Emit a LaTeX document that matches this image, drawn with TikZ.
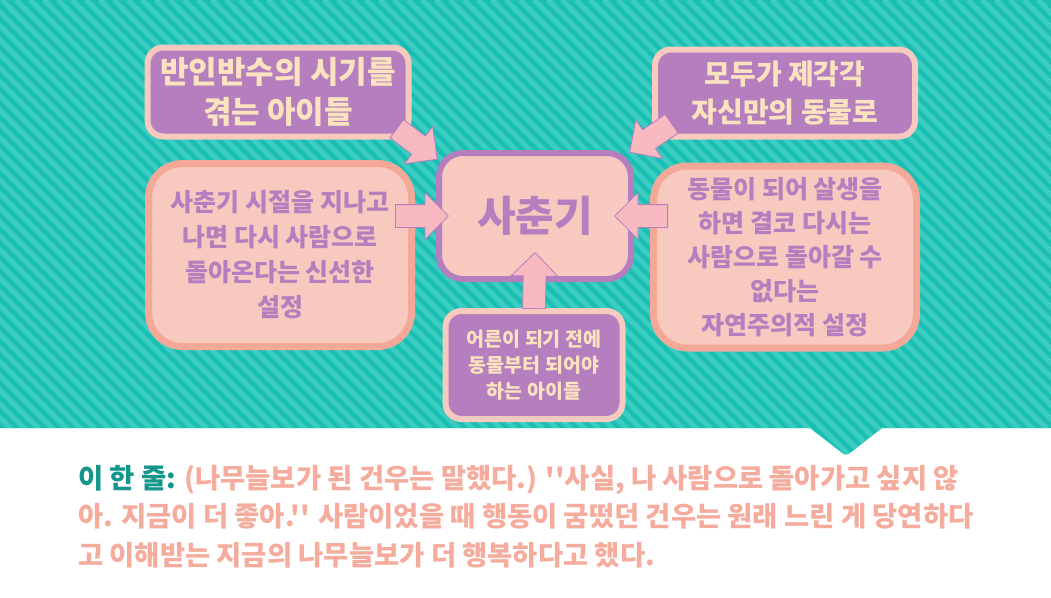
\documentclass[tikz,border=0pt]{standalone}
\usepackage{fontspec}
\newfontfamily\kr{Noto Sans CJK KR}
\usetikzlibrary{shapes.arrows, calc}
\definecolor{tealc}{RGB}{26,190,178}
\definecolor{stripec}{RGB}{60,205,194}
\definecolor{purplec}{RGB}{181,126,190}
\definecolor{peachc}{RGB}{248,201,190}
\definecolor{salmonc}{RGB}{244,168,152}
\definecolor{creamc}{RGB}{252,227,192}
\definecolor{arrowc}{RGB}{248,185,193}
\definecolor{deeptealc}{RGB}{20,150,138}
\definecolor{quotec}{RGB}{245,172,157}
\tikzset{
  card/.style={rectangle, rounded corners=16pt, align=center, inner sep=0pt},
  fs/.style 2 args={font={\kr\bfseries\fontsize{#1}{#2}\selectfont}},
  topic/.style={card, fill=purplec, draw=peachc, line width=6pt, text=creamc},
  idea/.style={card, fill=peachc, draw=salmonc, line width=7pt, rounded corners=34pt, text=purplec},
  hub/.style={card, fill=peachc, draw=purplec, line width=6pt, rounded corners=24pt, text=purplec},
  fatarr/.style={single arrow, draw=purplec, fill=arrowc, line width=0.8pt,
                 inner xsep=0pt, inner ysep=11pt, minimum width=0pt,
                 single arrow head extend=12pt, single arrow tip angle=90},
  stripe/.style={draw=stripec, line width=5pt},
}
% a fat block arrow from one point to another
\newcommand{\push}[2]{%
  \path let \p1=(#1), \p2=(#2), \n1={atan2(\y2-\y1,\x2-\x1)}, \n2={veclen(\x2-\x1,\y2-\y1)} in
    node[fatarr, rotate=\n1, minimum height=\n2, anchor=tail] at (\p1) {};}

\begin{document}
\begin{tikzpicture}[x=1pt, y=-1pt]
  \useasboundingbox (0,0) rectangle (1051,597);
  \fill[white] (0,0) rectangle (1051,597);

  % striped band with the notch
  \begin{scope}
    \clip (0,0) -- (1051,0) -- (1051,428) -- (882,428) [rounded corners=4pt] -- (846,456)
      [sharp corners] -- (810,428) -- (0,428) -- cycle;
    \fill[tealc] (0,0) rectangle (1051,460);
    \foreach \i in {-460,-446,...,1051} \draw[stripe] (\i,0) -- ++(460,460);
  \end{scope}

  \node[topic, fs={31}{40}, minimum width=261pt, minimum height=89pt] (tl) at (278,92)
    {반인반수의 시기를\\겪는 아이들};
  \node[topic, fs={28}{38}, minimum width=260pt, minimum height=87pt] (tr) at (785,93)
    {모두가 제각각\\자신만의 동물로};
  \node[hub, fs={42}{50}, minimum width=192pt, minimum height=126pt] (core) at (535,216)
    {사춘기};
  \node[idea, fs={25}{35}, minimum width=263pt, minimum height=183pt] (lbox) at (280,255)
    {사춘기 시절을 지나고\\나면 다시 사람으로\\돌아온다는 신선한\\설정};
  \node[idea, fs={25}{34}, minimum width=263pt, minimum height=182pt] (rbox) at (785,257)
    {동물이 되어 살생을\\하면 결코 다시는\\사람으로 돌아갈 수\\없다는\\자연주의적 설정};
  \node[topic, fs={19.5}{26}, minimum width=177pt, minimum height=108pt] (bbox) at (534,365)
    {어른이 되기 전에\\동물부터 되어야\\하는 아이들};

  \push{$(tl.south east)+(-15,-11)$}{$(core.north west)+(1,9)$}
  \push{$(tr.south west)+(20,-16)$}{$(core.north east)+(-4,2)$}
  \push{$(core.west)+(-41,0)$}{$(core.west)+(12,0)$}
  \push{$(core.east)+(34,0)$}{$(core.east)+(-19,0)$}
  \push{$(bbox.north)+(0,1)$}{$(core.south)+(0,-29)$}

  \node[anchor=north west, inner sep=0pt, align=left, text=quotec, fs={27.4}{38.5}] (line) at (78,465)
    {{\color{deeptealc}이 한 줄:} (나무늘보가 된 건우는 말했다.) ''사실, 나 사람으로 돌아가고 싶지 않\\
     아. 지금이 더 좋아.'' 사람이었을 때 행동이 굼떴던 건우는 원래 느린 게 당연하다\\
     고 이해받는 지금의 나무늘보가 더 행복하다고 했다.};
\end{tikzpicture}
\end{document}
